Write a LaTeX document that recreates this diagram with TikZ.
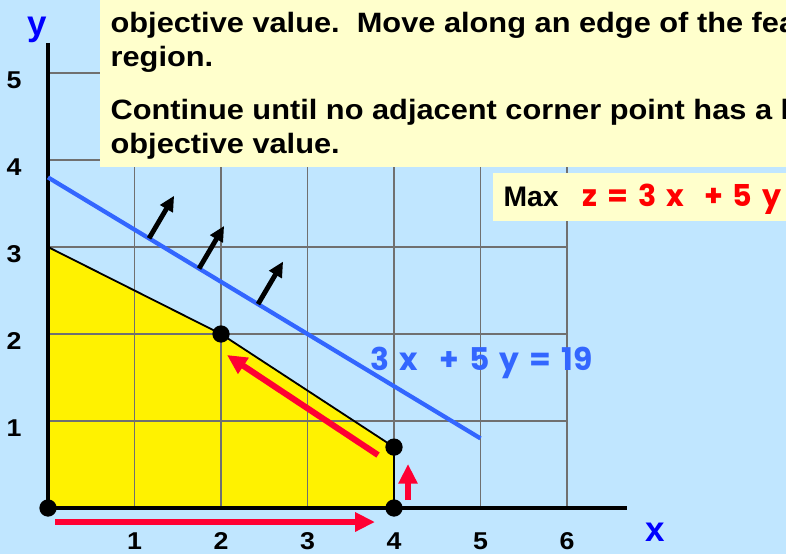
\documentclass[tikz,border=0pt]{standalone}
\usepackage{fontspec}
\setmainfont{Liberation Sans}
\newfontfamily\widefont[FakeStretch=1.1]{Liberation Sans}
\newfontfamily\eqfont{Poppins}
\usetikzlibrary{arrows.meta}
\definecolor{skyback}{RGB}{192,230,255}
\definecolor{notepaper}{RGB}{255,255,204}
\definecolor{gridgray}{RGB}{112,112,112}
\definecolor{objblue}{RGB}{51,102,255}
\definecolor{movered}{RGB}{255,0,51}
\definecolor{axisblue}{RGB}{0,0,255}
\newcommand{\eqgap}{\hspace{0.33em}}

\begin{document}
\begin{tikzpicture}[
	x=1cm, y=1.0058cm,
	gridline/.style={draw=gridgray, line width=0.5pt},
	axis/.style={draw=black, line width=1.3pt},
	vertex/.style={circle, fill=black, inner sep=0pt, minimum size=2mm},
	tick/.style={font=\widefont\bfseries\fontsize{8}{9}\selectfont},
	note/.style={anchor=base west, inner sep=0pt, font=\widefont\bfseries\fontsize{9.2}{11}\selectfont},
	eqn/.style={anchor=base west, inner sep=0pt, font=\eqfont\bfseries\fontsize{10.3}{12}\selectfont},
	move/.style={draw=movered, line width=2pt, -{Triangle[length=6.5pt, width=6pt]}},
	improve/.style={draw=black, line width=1.6pt, -{Triangle[length=5pt, width=4.6pt]}}
	]
	
	\useasboundingbox (-0.555,-0.529) rectangle (8.532,5.839);
	\clip (-0.555,-0.529) rectangle (8.532,5.839);
	\fill[skyback] (-0.555,-0.529) rectangle (8.532,5.839);
	
	\coordinate (O) at (0,0);
	\coordinate (A) at (4,0);
	\coordinate (B) at (4,0.7);
	\coordinate (C) at (2,2);
	\coordinate (D) at (0,3);
	
	\fill[yellow] (O) -- (A) -- (B) -- (C) -- (D) -- cycle;
	\foreach \i in {1,...,6}
		\draw[gridline] (\i,0) -- (\i,5);
	\foreach \j in {1,...,5}
		\draw[gridline] (0,\j) -- (6,\j);
	\draw[line width=0.6pt] (A) -- (B) -- (C) -- (D);
	
	\coordinate (ytop) at (0,5.345);
	\coordinate (xend) at (6.694,0);
	\draw[axis] (ytop) -- (O) -- (xend);
	
	\coordinate (L1) at (0,3.8);
	\coordinate (L2) at (5,0.8);
	\draw[objblue, line width=1.4pt] (L1) -- (L2);
	\foreach \s/\n in {1.168/1, 1.746/2, 2.428/3} {
		\coordinate (s\n) at (\s,{(19-3*\s)/5});
		\coordinate (t\n) at (\s+0.29,{(19-3*\s)/5+0.49});
		\draw[improve] (s\n) -- (t\n);
	}
	
	\coordinate (m1) at (0.081,-0.161);
	\coordinate (m2) at (3.78,-0.161);
	\coordinate (m3) at (4.162,0.092);
	\coordinate (m4) at (4.162,0.506);
	\coordinate (m5) at (3.815,0.609);
	\coordinate (m6) at (2.069,1.759);
	\draw[move] (m1) -- (m2);
	\draw[move] (m3) -- (m4);
	\draw[move] (m5) -- (m6);
	
	\node[vertex] (vO) at (O) {};
	\node[vertex] (vA) at (A) {};
	\node[vertex] (vB) at (B) {};
	\node[vertex] (vC) at (C) {};
	
	\fill[notepaper] (0.601,3.92) rectangle (8.6,6);
	\node[note] (line1) at (0.717,5.471) {objective value.\ \ Move along an edge of the feasible};
	\node[note] (line2) at (0.717,5.069) {region.};
	\node[note] (line3) at (0.717,4.471) {Continue until no adjacent corner point has a higher};
	\node[note] (line4) at (0.717,4.080) {objective value.};
	
	\fill[notepaper] (5.145,3.299) rectangle (8.6,3.851);
	\node[anchor=base west, inner sep=0pt, font=\bfseries\fontsize{9.3}{10}\selectfont] (maxlbl) at (5.26,3.46) {Max};
	\node[eqn, text=red, font=\eqfont\bfseries\fontsize{9.9}{12}\selectfont] (objfn) at (6.173,3.46) {z\eqgap=\eqgap3\eqgap x\eqgap\eqgap+\eqgap5\eqgap y};
	\node[eqn, text=objblue] (isolbl) at (3.723,1.586) {3\eqgap x\eqgap\eqgap+\eqgap5\eqgap y\eqgap=\eqgap19};
	
	\foreach \i in {1,...,6}
		\node[tick] (xt\i) at (\i,-0.38) {\i};
	\foreach \j in {1,...,5}
		\node[tick] (yt\j) at (-0.393,\j-0.08) {\j};
	
	\node[text=axisblue, font=\bfseries\fontsize{11.5}{12}\selectfont] (ylbl) at (-0.127,5.50) {y};
	\node[text=axisblue, font=\bfseries\fontsize{11.5}{12}\selectfont] (xlbl) at (7.017,-0.28) {x};
\end{tikzpicture}
\end{document}
